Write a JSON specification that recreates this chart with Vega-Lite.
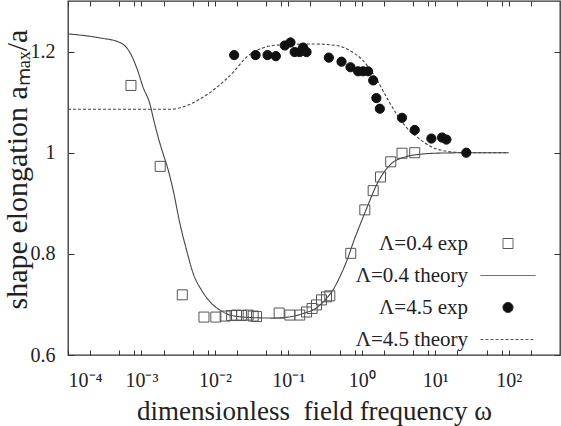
{
  "$schema": "https://vega.github.io/schema/vega-lite/v6.json",
  "width": 492,
  "height": 354,
  "autosize": {"type": "none"},
  "padding": {"left": 68, "top": 1, "right": 1, "bottom": 71},
  "background": "white",
  "config": {
    "view": {"stroke": "#333", "strokeWidth": 1.3},
    "font": "Liberation Serif, Times New Roman, serif",
    "axis": {
      "domain": false,
      "grid": false,
      "tickColor": "#333",
      "tickWidth": 1,
      "labelColor": "#222",
      "titleColor": "#222",
      "labelFont": "Liberation Serif, Times New Roman, serif",
      "titleFont": "Liberation Serif, Times New Roman, serif",
      "titleFontWeight": "normal",
      "labelFontSize": 20,
      "titleFontSize": 27
    }
  },
  "datasets": {
    "theory": [
      {"w": 0.0001, "y": 1.235, "series": "Λ=0.4 theory"},
      {"w": 0.000272, "y": 1.227, "series": "Λ=0.4 theory"},
      {"w": 0.000509, "y": 1.218, "series": "Λ=0.4 theory"},
      {"w": 0.000698, "y": 1.198, "series": "Λ=0.4 theory"},
      {"w": 0.000861, "y": 1.168, "series": "Λ=0.4 theory"},
      {"w": 0.001057, "y": 1.129, "series": "Λ=0.4 theory"},
      {"w": 0.001306, "y": 1.096, "series": "Λ=0.4 theory"},
      {"w": 0.001479, "y": 1.063, "series": "Λ=0.4 theory"},
      {"w": 0.001694, "y": 1.03, "series": "Λ=0.4 theory"},
      {"w": 0.001982, "y": 0.997, "series": "Λ=0.4 theory"},
      {"w": 0.00226, "y": 0.971, "series": "Λ=0.4 theory"},
      {"w": 0.00271, "y": 0.925, "series": "Λ=0.4 theory"},
      {"w": 0.00334, "y": 0.86, "series": "Λ=0.4 theory"},
      {"w": 0.00412, "y": 0.807, "series": "Λ=0.4 theory"},
      {"w": 0.00507, "y": 0.761, "series": "Λ=0.4 theory"},
      {"w": 0.00659, "y": 0.728, "series": "Λ=0.4 theory"},
      {"w": 0.00902, "y": 0.702, "series": "Λ=0.4 theory"},
      {"w": 0.01297, "y": 0.685, "series": "Λ=0.4 theory"},
      {"w": 0.016, "y": 0.679, "series": "Λ=0.4 theory"},
      {"w": 0.0316, "y": 0.674, "series": "Λ=0.4 theory"},
      {"w": 0.0631, "y": 0.673, "series": "Λ=0.4 theory"},
      {"w": 0.1, "y": 0.675, "series": "Λ=0.4 theory"},
      {"w": 0.1585, "y": 0.682, "series": "Λ=0.4 theory"},
      {"w": 0.2512, "y": 0.695, "series": "Λ=0.4 theory"},
      {"w": 0.3162, "y": 0.709, "series": "Λ=0.4 theory"},
      {"w": 0.3981, "y": 0.727, "series": "Λ=0.4 theory"},
      {"w": 0.5012, "y": 0.754, "series": "Λ=0.4 theory"},
      {"w": 0.631, "y": 0.788, "series": "Λ=0.4 theory"},
      {"w": 0.7943, "y": 0.829, "series": "Λ=0.4 theory"},
      {"w": 1.0, "y": 0.866, "series": "Λ=0.4 theory"},
      {"w": 1.259, "y": 0.902, "series": "Λ=0.4 theory"},
      {"w": 1.585, "y": 0.936, "series": "Λ=0.4 theory"},
      {"w": 1.995, "y": 0.961, "series": "Λ=0.4 theory"},
      {"w": 2.512, "y": 0.978, "series": "Λ=0.4 theory"},
      {"w": 3.981, "y": 0.992, "series": "Λ=0.4 theory"},
      {"w": 6.31, "y": 0.997, "series": "Λ=0.4 theory"},
      {"w": 10, "y": 0.999, "series": "Λ=0.4 theory"},
      {"w": 31.62, "y": 1.0, "series": "Λ=0.4 theory"},
      {"w": 100, "y": 1.0, "series": "Λ=0.4 theory"},
      {"w": 0.0001, "y": 1.086, "series": "Λ=4.5 theory"},
      {"w": 0.002443, "y": 1.086, "series": "Λ=4.5 theory"},
      {"w": 0.004121, "y": 1.093, "series": "Λ=4.5 theory"},
      {"w": 0.006252, "y": 1.106, "series": "Λ=4.5 theory"},
      {"w": 0.01054, "y": 1.129, "series": "Λ=4.5 theory"},
      {"w": 0.01774, "y": 1.159, "series": "Λ=4.5 theory"},
      {"w": 0.02698, "y": 1.189, "series": "Λ=4.5 theory"},
      {"w": 0.04093, "y": 1.205, "series": "Λ=4.5 theory"},
      {"w": 0.06209, "y": 1.212, "series": "Λ=4.5 theory"},
      {"w": 0.1047, "y": 1.214, "series": "Λ=4.5 theory"},
      {"w": 0.2173, "y": 1.215, "series": "Λ=4.5 theory"},
      {"w": 0.4529, "y": 1.212, "series": "Λ=4.5 theory"},
      {"w": 0.6871, "y": 1.202, "series": "Λ=4.5 theory"},
      {"w": 1.042, "y": 1.182, "series": "Λ=4.5 theory"},
      {"w": 1.585, "y": 1.146, "series": "Λ=4.5 theory"},
      {"w": 2.168, "y": 1.11, "series": "Λ=4.5 theory"},
      {"w": 2.965, "y": 1.077, "series": "Λ=4.5 theory"},
      {"w": 4.055, "y": 1.05, "series": "Λ=4.5 theory"},
      {"w": 6.152, "y": 1.027, "series": "Λ=4.5 theory"},
      {"w": 9.333, "y": 1.01, "series": "Λ=4.5 theory"},
      {"w": 14.19, "y": 1.003, "series": "Λ=4.5 theory"},
      {"w": 26.55, "y": 1.0, "series": "Λ=4.5 theory"},
      {"w": 100, "y": 1.0, "series": "Λ=4.5 theory"}
    ],
    "exp": [
      {"w": 0.00072, "y": 1.133, "series": "Λ=0.4 exp"},
      {"w": 0.0018, "y": 0.973, "series": "Λ=0.4 exp"},
      {"w": 0.0036, "y": 0.719, "series": "Λ=0.4 exp"},
      {"w": 0.0071, "y": 0.675, "series": "Λ=0.4 exp"},
      {"w": 0.0103, "y": 0.675, "series": "Λ=0.4 exp"},
      {"w": 0.0138, "y": 0.677, "series": "Λ=0.4 exp"},
      {"w": 0.0169, "y": 0.678, "series": "Λ=0.4 exp"},
      {"w": 0.0197, "y": 0.679, "series": "Λ=0.4 exp"},
      {"w": 0.0231, "y": 0.678, "series": "Λ=0.4 exp"},
      {"w": 0.0284, "y": 0.679, "series": "Λ=0.4 exp"},
      {"w": 0.0332, "y": 0.677, "series": "Λ=0.4 exp"},
      {"w": 0.0369, "y": 0.676, "series": "Λ=0.4 exp"},
      {"w": 0.075, "y": 0.683, "series": "Λ=0.4 exp"},
      {"w": 0.105, "y": 0.679, "series": "Λ=0.4 exp"},
      {"w": 0.143, "y": 0.679, "series": "Λ=0.4 exp"},
      {"w": 0.177, "y": 0.685, "series": "Λ=0.4 exp"},
      {"w": 0.211, "y": 0.692, "series": "Λ=0.4 exp"},
      {"w": 0.242, "y": 0.699, "series": "Λ=0.4 exp"},
      {"w": 0.283, "y": 0.709, "series": "Λ=0.4 exp"},
      {"w": 0.331, "y": 0.715, "series": "Λ=0.4 exp"},
      {"w": 0.367, "y": 0.717, "series": "Λ=0.4 exp"},
      {"w": 0.708, "y": 0.801, "series": "Λ=0.4 exp"},
      {"w": 1.1, "y": 0.887, "series": "Λ=0.4 exp"},
      {"w": 1.43, "y": 0.925, "series": "Λ=0.4 exp"},
      {"w": 1.8, "y": 0.952, "series": "Λ=0.4 exp"},
      {"w": 2.48, "y": 0.982, "series": "Λ=0.4 exp"},
      {"w": 3.53, "y": 0.999, "series": "Λ=0.4 exp"},
      {"w": 5.26, "y": 1.0, "series": "Λ=0.4 exp"},
      {"w": 0.0183, "y": 1.193, "series": "Λ=4.5 exp"},
      {"w": 0.0358, "y": 1.193, "series": "Λ=4.5 exp"},
      {"w": 0.0521, "y": 1.193, "series": "Λ=4.5 exp"},
      {"w": 0.0676, "y": 1.191, "series": "Λ=4.5 exp"},
      {"w": 0.0895, "y": 1.212, "series": "Λ=4.5 exp"},
      {"w": 0.107, "y": 1.218, "series": "Λ=4.5 exp"},
      {"w": 0.122, "y": 1.199, "series": "Λ=4.5 exp"},
      {"w": 0.143, "y": 1.199, "series": "Λ=4.5 exp"},
      {"w": 0.159, "y": 1.208, "series": "Λ=4.5 exp"},
      {"w": 0.177, "y": 1.199, "series": "Λ=4.5 exp"},
      {"w": 0.356, "y": 1.188, "series": "Λ=4.5 exp"},
      {"w": 0.53, "y": 1.18, "series": "Λ=4.5 exp"},
      {"w": 0.702, "y": 1.169, "series": "Λ=4.5 exp"},
      {"w": 0.891, "y": 1.161, "series": "Λ=4.5 exp"},
      {"w": 1.04, "y": 1.161, "series": "Λ=4.5 exp"},
      {"w": 1.22, "y": 1.161, "series": "Λ=4.5 exp"},
      {"w": 1.43, "y": 1.143, "series": "Λ=4.5 exp"},
      {"w": 1.58, "y": 1.108, "series": "Λ=4.5 exp"},
      {"w": 1.76, "y": 1.087, "series": "Λ=4.5 exp"},
      {"w": 3.53, "y": 1.069, "series": "Λ=4.5 exp"},
      {"w": 5.26, "y": 1.045, "series": "Λ=4.5 exp"},
      {"w": 8.87, "y": 1.028, "series": "Λ=4.5 exp"},
      {"w": 12.4, "y": 1.03, "series": "Λ=4.5 exp"},
      {"w": 14.2, "y": 1.026, "series": "Λ=4.5 exp"},
      {"w": 26.5, "y": 1.0, "series": "Λ=4.5 exp"}
    ]
  },
  "layer": [
    {
      "data": {"name": "theory"},
      "mark": {"type": "line", "interpolate": "monotone", "strokeWidth": 1.1, "color": "#444"},
      "encoding": {
        "x": {
          "field": "w", "type": "quantitative",
          "scale": {"type": "log", "domain": [0.0001, 500], "nice": false},
          "axis": {
            "orient": "bottom",
            "values": [0.0001, 0.0002, 0.0005, 0.0008, 0.001, 0.002, 0.005, 0.008, 0.01, 0.02, 0.05, 0.08, 0.1, 0.2, 0.5, 0.8, 1, 2, 5, 8, 10, 20, 50, 80, 100, 200],
            "labelExpr": "datum.value==0.0001?'10⁻⁴':datum.value==0.001?'10⁻³':datum.value==0.01?'10⁻²':datum.value==0.1?'10⁻¹':datum.value==1?'10⁰':datum.value==10?'10¹':datum.value==100?'10²':''",
            "tickSize": -5,
            "labelPadding": 36,
            "labelBaseline": "alphabetic",
            "title": "dimensionless\u00a0 field frequency ω",
            "titleBaseline": "alphabetic",
            "titleY": 64
          }
        },
        "y": {
          "field": "y", "type": "quantitative",
          "scale": {"domain": [0.6, 1.3], "nice": false, "zero": false},
          "axis": {
            "orient": "left",
            "values": [0.6, 0.8, 1, 1.2],
            "format": "~g",
            "tickSize": -6,
            "labelPadding": 19,
            "title": "shape elongation aₘₐₓ/a",
            "titleFontSize": 30,
            "titleBaseline": "alphabetic",
            "titleX": -42,
            "titleY": 168
          }
        },
        "strokeDash": {
          "field": "series", "type": "nominal",
          "scale": {
            "domain": ["Λ=0.4 exp", "Λ=0.4 theory", "Λ=4.5 exp", "Λ=4.5 theory"],
            "range": [[1, 0], [1, 0], [1, 0], [3, 2]]
          }
        }
      }
    },
    {
      "data": {"name": "exp"},
      "mark": {"type": "point", "strokeWidth": 1, "opacity": 1},
      "encoding": {
        "x": {
          "field": "w", "type": "quantitative",
          "axis": {
            "orient": "top",
            "values": [0.0001, 0.0002, 0.0005, 0.0008, 0.001, 0.002, 0.005, 0.008, 0.01, 0.02, 0.05, 0.08, 0.1, 0.2, 0.5, 0.8, 1, 2, 5, 8, 10, 20, 50, 80, 100, 200],
            "labels": false,
            "tickSize": -5,
            "title": null
          }
        },
        "y": {
          "field": "y", "type": "quantitative",
          "axis": {
            "orient": "right",
            "values": [0.6, 0.8, 1, 1.2],
            "labels": false,
            "tickSize": -6,
            "title": null
          }
        },
        "shape": {
          "field": "series", "type": "nominal",
          "scale": {
            "domain": ["Λ=0.4 exp", "Λ=0.4 theory", "Λ=4.5 exp", "Λ=4.5 theory"],
            "range": ["square", "M-5.5,0H5.5", "circle", "M-5.5,0H5.5"]
          },
          "legend": {
            "title": null,
            "orient": "none",
            "legendX": 383.5,
            "legendY": 232,
            "labelFontSize": 21,
            "labelFont": "Liberation Serif, Times New Roman, serif",
            "labelColor": "#222",
            "labelAlign": "right",
            "labelOffset": -50.5,
            "symbolOffset": 46,
            "symbolSize": 100,
            "rowPadding": 10,
            "symbolStrokeWidth": 1
          }
        },
        "fill": {
          "field": "series", "type": "nominal",
          "scale": {
            "domain": ["Λ=0.4 exp", "Λ=0.4 theory", "Λ=4.5 exp", "Λ=4.5 theory"],
            "range": ["transparent", "transparent", "#111", "transparent"]
          },
          "legend": null
        },
        "stroke": {
          "field": "series", "type": "nominal",
          "scale": {
            "domain": ["Λ=0.4 exp", "Λ=0.4 theory", "Λ=4.5 exp", "Λ=4.5 theory"],
            "range": ["#555", "#444", "#111", "#555"]
          },
          "legend": null
        },
        "size": {"condition": {"test": "datum.series == 'Λ=0.4 exp'", "value": 100}, "value": 85}
      }
    }
  ]
}
